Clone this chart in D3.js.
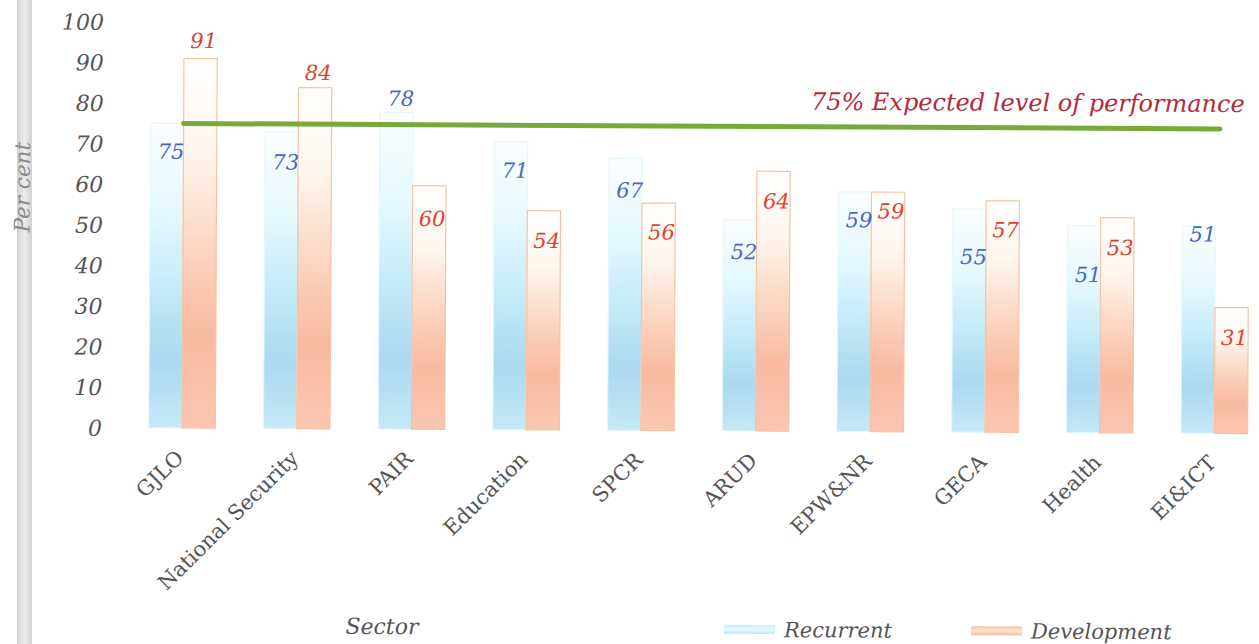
<!DOCTYPE html>
<html>
<head>
<meta charset="utf-8">
<script src="https://cdn.jsdelivr.net/npm/d3@7/dist/d3.min.js"></script>
<style>
  html, body { margin: 0; padding: 0; background: #ffffff; }
  svg { display: block; }
  text { font-family: "DejaVu Serif", "Liberation Serif", serif; }
</style>
</head>
<body>
<svg id="chart" width="1259" height="644"></svg>
<script>
// ---- data ----
const categories = ["GJLO", "National Security", "PAIR", "Education", "SPCR", "ARUD", "EPW&NR", "GECA", "Health", "EI&ICT"];
const recurrent   = [75, 73, 78, 71, 67, 52, 59, 55, 51, 51];
const development = [91, 84, 60, 54, 56, 64, 59, 57, 53, 31];
const yTicks = [0, 10, 20, 30, 40, 50, 60, 70, 80, 90, 100];
const expectedLevel = 75;
const expectedLabel = "75% Expected level of performance";
const seriesNames = ["Recurrent", "Development"];
const yTitle = "Per cent";
const xTitle = "Sector";
// label nudges (px below bar top; negative = above), as placed in the original
const recLabelDy = [28, 30, -14, 29, 32, 32, 28, 48, 49, 8];
const devLabelDy = [-18, -15, 33, 30, 29, 30, 19, 29, 30, 30];

// ---- layout ----
const svg = d3.select("#chart");
const defs = svg.append("defs");

function grad(id, stops, horizontal) {
  const g = defs.append("linearGradient").attr("id", id)
    .attr("x1", 0).attr("y1", 0).attr("x2", horizontal ? 1 : 0).attr("y2", horizontal ? 0 : 1);
  stops.forEach(s => g.append("stop").attr("offset", s[0]).attr("stop-color", s[1]));
}
grad("gRec", [[0, "#fbfeff"], [0.3, "#e3f8fd"], [0.55, "#c2eaf8"], [0.78, "#abd8f0"], [1, "#c6e9f7"]]);
grad("gDev", [[0, "#ffffff"], [0.25, "#fff6ee"], [0.5, "#fcd7c2"], [0.75, "#f8b9a0"], [1, "#fac7b2"]]);
grad("gSide", [[0, "#d0d0d0"], [0.5, "#ececec"], [1, "#d2d2d2"]], true);
grad("gLegRec", [[0, "#c8eef9"], [0.5, "#e9f9fd"], [1, "#bfe6f6"]]);
grad("gLegDev", [[0, "#f8c39f"], [0.5, "#fde6d6"], [1, "#f6bb96"]]);

// left grey binding strip
svg.append("rect").attr("x", 17).attr("y", 0).attr("width", 15).attr("height", 644)
  .attr("fill", "url(#gSide)");

const g = svg.append("g").attr("transform", "rotate(0.3, 182, 428)");

const x = d3.scaleBand().domain(categories).range([124.7, 1271.7]).paddingInner(0.42).paddingOuter(0.21);
const xs = d3.scaleBand().domain(seriesNames).range([0, x.bandwidth()]).padding(0);
const y = d3.scaleLinear().domain([0, 100]).range([428, 22]);

// y tick labels (no axis line)
const yAxis = d3.axisLeft(y).tickValues(yTicks).tickSize(0).tickPadding(0);
const ya = g.append("g").attr("transform", "translate(102,0)").call(yAxis);
ya.select(".domain").remove();
ya.selectAll("text")
  .attr("font-family", "DejaVu Serif")
  .attr("font-style", "italic")
  .attr("font-size", 22)
  .attr("fill", "#555555")
  .attr("dy", "0.35em");

// bars
const groups = g.selectAll(".grp").data(categories).join("g")
  .attr("class", "grp").attr("transform", d => `translate(${x(d)},0)`);

groups.append("rect")
  .attr("x", xs("Recurrent"))
  .attr("y", (d, i) => y(recurrent[i]))
  .attr("width", xs.bandwidth())
  .attr("height", (d, i) => y(0) - y(recurrent[i]))
  .attr("fill", "url(#gRec)")
  .attr("stroke", "#e4f6fc").attr("stroke-width", 1);

groups.append("rect")
  .attr("x", xs("Development"))
  .attr("y", (d, i) => y(development[i]))
  .attr("width", xs.bandwidth())
  .attr("height", (d, i) => y(0) - y(development[i]))
  .attr("fill", "url(#gDev)")
  .attr("stroke", "#f7c2a3").attr("stroke-width", 1.2);

// expected level line
g.append("line")
  .attr("x1", x(categories[0]) + xs("Development"))
  .attr("x2", x(categories[categories.length - 1]) + xs("Development") + 4)
  .attr("y1", y(expectedLevel)).attr("y2", y(expectedLevel))
  .attr("stroke", "#78aa3a").attr("stroke-width", 5).attr("stroke-linecap", "round");

g.append("text")
  .attr("x", 1243).attr("y", y(expectedLevel) - 17)
  .attr("text-anchor", "end")
  .attr("font-style", "italic").attr("font-size", 24)
  .attr("fill", "#b52a38")
  .text(expectedLabel);

// value labels
groups.append("text")
  .attr("x", xs("Recurrent") + xs.bandwidth() + 1)
  .attr("y", (d, i) => y(recurrent[i]) + recLabelDy[i])
  .attr("dy", "0.35em")
  .attr("text-anchor", "end")
  .attr("font-style", "italic").attr("font-size", 21)
  .attr("fill", "#4a68bd")
  .text((d, i) => recurrent[i]);

groups.append("text")
  .attr("x", xs("Development") + xs.bandwidth() / 2 + 3)
  .attr("y", (d, i) => y(development[i]) + devLabelDy[i])
  .attr("dy", "0.35em")
  .attr("text-anchor", "middle")
  .attr("font-style", "italic").attr("font-size", 21)
  .attr("fill", "#dc4430")
  .text((d, i) => development[i]);

// category labels
const xAxis = d3.axisBottom(x).tickSize(0).tickPadding(0);
const xa = g.append("g").attr("transform", "translate(0,459)").call(xAxis);
xa.select(".domain").remove();
xa.selectAll("text")
  .attr("font-family", "DejaVu Serif")
  .attr("font-size", 21)
  .attr("fill", "#555555")
  .attr("text-anchor", "end")
  .attr("y", 0).attr("dy", 0)
  .attr("transform", "translate(3,0) rotate(-45)");

// axis titles
g.append("text")
  .attr("transform", "translate(21,188) rotate(-90)")
  .attr("text-anchor", "middle").attr("dy", "0.35em")
  .attr("font-style", "italic").attr("font-size", 21.5)
  .attr("fill", "#8a8a8a")
  .text(yTitle);

g.append("text")
  .attr("x", 383).attr("y", 633)
  .attr("text-anchor", "middle")
  .attr("font-style", "italic").attr("font-size", 22)
  .attr("fill", "#555555")
  .text(xTitle);

// legend
const legX = [725, 972];
const legFill = ["url(#gLegRec)", "url(#gLegDev)"];
const leg = g.selectAll(".leg").data(seriesNames).join("g")
  .attr("class", "leg").attr("transform", (d, i) => `translate(${legX[i]},0)`);
leg.append("rect").attr("x", 0).attr("y", 622).attr("width", 51).attr("height", 9)
  .attr("fill", (d, i) => legFill[i]);
leg.append("text").attr("x", 60).attr("y", 634)
  .attr("font-style", "italic").attr("font-size", 21)
  .attr("fill", "#555555")
  .text(d => d);
</script>
</body>
</html>
